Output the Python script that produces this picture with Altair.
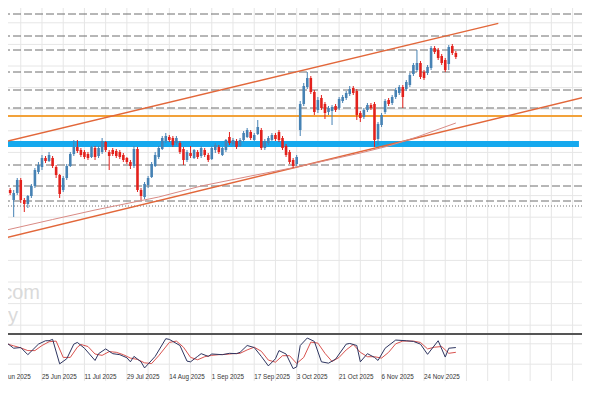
import altair as alt
import pandas as pd

# ---------------- data ----------------
day = list(range(2, 130))
open_ = [160.5, 161.0, 160.0, 160.7, 162.0, 160.0, 159.6, 160.4, 161.4, 162.8,
         163.3, 164.2, 163.9, 164.2, 163.3, 162.5, 161.0, 162.2, 163.4, 164.6,
         165.3, 165.0, 164.8, 164.6, 164.3, 165.2, 164.4, 164.8, 165.8, 164.8,
         165.0, 164.9, 164.8, 164.5, 164.2, 163.8, 163.4, 165.1, 161.0, 160.3,
         161.5, 162.3, 163.4, 164.3, 165.1, 165.9, 166.3, 166.2, 165.7, 165.7,
         165.1, 164.0, 164.7, 164.2, 164.8, 164.4, 165.0, 164.5, 164.1, 165.0,
         165.3, 164.5, 165.0, 166.3, 165.6, 165.9, 165.4, 166.0, 166.3, 166.8,
         166.0, 166.6, 167.0, 165.2, 165.7, 166.0, 166.5, 166.8, 166.2, 165.4,
         164.8, 164.0, 163.6, 167.0, 169.6, 171.3, 172.2, 170.8, 169.0, 170.2,
         169.6, 168.8, 168.9, 169.4, 169.2, 169.9, 170.2, 170.6, 171.2, 170.9,
         168.7, 168.3, 169.0, 169.5, 169.6, 166.1, 167.5, 168.8, 170.0, 169.7,
         170.3, 170.7, 171.3, 171.1, 171.5, 172.6, 173.0, 173.7, 172.8, 172.7,
         173.2, 175.2, 175.0, 174.4, 174.0, 173.6, 175.4, 174.7]
high = [161.5, 161.2, 161.0, 162.2, 162.2, 160.2, 160.5, 161.6, 163.2, 163.8,
        164.5, 164.4, 164.8, 164.4, 163.5, 162.6, 162.4, 163.6, 164.8, 166.0,
        166.0, 165.2, 165.0, 164.8, 165.4, 165.4, 165.4, 166.2, 165.9, 165.0,
        165.2, 165.1, 165.0, 164.7, 164.3, 164.0, 165.4, 165.3, 161.2, 161.8,
        162.4, 163.8, 164.8, 165.4, 166.4, 166.7, 166.5, 166.4, 166.4, 165.9,
        165.3, 165.0, 165.4, 165.1, 165.0, 165.4, 165.2, 164.7, 165.4, 165.7,
        165.5, 165.3, 166.1, 166.8, 166.2, 166.1, 166.2, 166.9, 167.2, 167.0,
        166.7, 168.0, 167.2, 166.1, 166.4, 166.7, 166.7, 167.0, 166.4, 165.6,
        165.0, 164.2, 164.5, 169.9, 171.7, 172.8, 172.4, 171.0, 170.3, 170.5,
        169.8, 169.4, 169.5, 169.6, 170.3, 170.5, 170.9, 171.4, 171.4, 171.1,
        168.9, 169.2, 169.7, 169.7, 169.8, 167.8, 168.7, 170.1, 170.2, 170.5,
        171.2, 171.5, 171.5, 172.0, 172.7, 173.7, 175.0, 173.9, 173.0, 173.5,
        175.4, 175.4, 175.2, 174.6, 174.2, 175.5, 175.6, 174.9]
low = [160.0, 160.5, 158.3, 160.5, 159.7, 158.8, 159.2, 160.2, 161.2, 162.6,
       163.0, 163.7, 163.8, 163.2, 162.2, 160.2, 160.8, 162.0, 163.3, 164.4,
       164.7, 164.3, 164.1, 164.0, 164.2, 164.0, 164.2, 164.6, 164.8, 163.0,
       164.4, 164.2, 164.1, 163.8, 163.6, 163.1, 163.2, 160.8, 160.0, 160.1,
       161.2, 162.2, 163.3, 164.1, 165.0, 165.7, 165.8, 165.3, 165.5, 164.6,
       163.5, 163.8, 164.2, 164.1, 164.1, 164.2, 164.3, 163.8, 164.0, 164.7,
       164.6, 164.4, 164.8, 165.5, 165.4, 165.1, 165.3, 165.8, 166.2, 166.0,
       165.9, 166.5, 165.0, 165.0, 165.5, 165.9, 165.9, 165.8, 165.0, 164.3,
       163.6, 163.2, 163.4, 166.4, 169.4, 171.1, 170.6, 168.5, 168.7, 169.0,
       168.1, 168.5, 167.5, 168.8, 169.0, 169.7, 170.0, 170.4, 170.5, 168.0,
       167.8, 168.1, 168.8, 169.0, 165.3, 165.5, 167.3, 168.6, 169.4, 169.5,
       170.1, 170.5, 169.2, 170.9, 171.3, 172.4, 172.8, 172.1, 172.0, 172.5,
       173.0, 174.6, 174.0, 173.5, 172.8, 173.0, 174.5, 174.1]
close = [161.0, 160.7, 160.7, 162.0, 160.0, 159.6, 160.4, 161.4, 163.0, 163.5,
         164.2, 163.9, 164.5, 163.4, 162.5, 160.6, 162.2, 163.4, 164.6, 165.3,
         164.9, 164.5, 164.3, 164.2, 165.3, 164.3, 165.2, 165.9, 165.0, 164.4,
         164.6, 164.4, 164.3, 164.0, 163.8, 163.4, 165.1, 161.0, 160.4, 161.6,
         162.2, 163.6, 164.5, 165.2, 166.2, 166.4, 166.0, 165.5, 166.2, 164.8,
         164.0, 164.8, 164.4, 165.0, 164.3, 165.2, 164.5, 164.0, 165.2, 165.5,
         164.8, 165.2, 166.0, 165.7, 166.0, 165.3, 166.0, 166.7, 167.0, 166.2,
         166.5, 167.3, 165.2, 165.9, 166.2, 166.5, 166.1, 166.0, 165.2, 164.5,
         163.8, 163.4, 164.3, 169.6, 171.4, 172.2, 170.8, 168.8, 170.0, 169.2,
         168.7, 169.2, 169.3, 169.0, 170.1, 170.3, 170.7, 171.1, 170.7, 168.5,
         168.2, 169.0, 169.5, 169.2, 166.0, 167.6, 168.5, 169.9, 169.6, 170.3,
         171.0, 171.3, 170.3, 171.8, 172.5, 173.5, 173.7, 172.3, 172.2, 173.3,
         175.2, 174.8, 174.2, 173.7, 173.0, 175.3, 174.7, 174.3]

# moving average
ma_day = [2, 15, 27, 45, 57, 71, 84, 93, 102, 110, 118, 129]
ma_val = [157.0, 158.05, 159.0, 160.3, 161.4, 162.4, 163.3, 164.0, 164.7, 165.4, 166.3, 167.7]

# horizontal levels
dashed_levels = [178.6, 176.4, 175.0, 172.8, 171.0, 169.2, 163.5, 161.4, 159.9]
dotted_levels = [159.4]
orange_level = [168.4]
band_low, band_high = 165.3, 165.9
band_start, band_end = -5, 163.8

# channel lines (start/end points)
upper_day = [0, 141]
upper_val = [165.69, 177.66]
lower_day = [0, 170]
lower_val = [156.06, 170.69]

# stochastic oscillator
k_day = [2, 3, 4, 6, 8, 11, 13, 14, 15, 17, 19, 21, 22, 24, 27, 28, 30, 32, 34, 36,
         37, 38, 40, 41, 44, 47, 48, 51, 53, 54, 56, 57, 59, 60, 63, 65, 67, 68, 70, 72,
         74, 76, 78, 79, 81, 83, 84, 85, 87, 89, 91, 93, 95, 98, 99, 101, 102, 104, 106, 107,
         109, 112, 115, 117, 119, 121, 124, 126, 127, 129]
k_val = [83, 75, 67, 69, 48, 79, 89, 89, 93, 21, 36, 79, 84, 67, 31, 51, 65, 51, 48, 39,
         27, 43, 27, 9, 43, 95, 93, 75, 29, 27, 43, 51, 43, 50, 48, 52, 51, 55, 75, 69,
         43, 15, 36, 60, 50, 7, 12, 75, 97, 87, 27, 23, 35, 79, 81, 75, 27, 51, 40, 31,
         67, 91, 89, 87, 79, 49, 89, 41, 67, 69]
d_day = [2, 4, 6, 8, 10, 12, 14, 16, 18, 20, 22, 23, 25, 27, 29, 31, 33, 35, 37, 39,
         41, 43, 45, 48, 50, 52, 54, 56, 58, 60, 62, 64, 66, 68, 70, 72, 74, 76, 78, 80,
         82, 84, 86, 88, 90, 92, 94, 96, 98, 100, 102, 104, 106, 108, 110, 112, 114, 117, 119, 121,
         123, 125, 127, 129]
d_val = [80, 74, 68, 60, 60, 75, 86, 88, 40, 40, 70, 78, 72, 50, 46, 57, 55, 48, 38, 34,
         24, 22, 45, 84, 88, 70, 40, 33, 42, 46, 48, 49, 51, 52, 62, 70, 58, 32, 26, 45,
         45, 22, 40, 85, 82, 52, 28, 40, 62, 78, 55, 42, 42, 38, 55, 80, 88, 88, 84, 65,
         70, 72, 52, 55]
osc_levels = [20, 80]

tick_days = [0, 12, 24, 36, 48, 60, 72, 84, 96, 108, 120]
tick_labels = ["9 Jun 2025", "25 Jun 2025", "11 Jul 2025", "29 Jul 2025", "14 Aug 2025",
               "1 Sep 2025", "17 Sep 2025", "3 Oct 2025", "21 Oct 2025", "6 Nov 2025",
               "24 Nov 2025"]

# ---------------- tables ----------------
candles = pd.DataFrame({"day": day, "open": open_, "high": high, "low": low, "close": close})
ma = pd.DataFrame({"day": ma_day, "price": ma_val})
upper = pd.DataFrame({"day": upper_day, "price": upper_val})
lower = pd.DataFrame({"day": lower_day, "price": lower_val})
dashed = pd.DataFrame({"price": dashed_levels})
dotted = pd.DataFrame({"price": dotted_levels})
orange = pd.DataFrame({"price": orange_level})
band = pd.DataFrame({"x1": [band_start], "x2": [band_end], "y1": [band_low], "y2": [band_high]})
kdf = pd.DataFrame({"day": k_day, "v": k_val})
ddf = pd.DataFrame({"day": d_day, "v": d_val})
odf = pd.DataFrame({"v": osc_levels})
ticks_df = pd.DataFrame({"day": tick_days, "label": tick_labels})
one = pd.DataFrame({"a": [0]})
vgrid = pd.DataFrame({"day": list(range(6, 166, 6))})
hgrid_df = pd.DataFrame({"price": [round(151.8 + 2.16 * k, 2) for k in range(-2, 13)]})

W = 574          # plot = whole chart (no axes, autosize none)
H = 373
GRID = "#E6E6E6"

x_scale = alt.Scale(domain=[3.806, 163.25], nice=False, zero=False)
y_scale = alt.Scale(domain=[146.6, 179.2], range=[326, 0], nice=False, zero=False)
o_scale = alt.Scale(domain=[0, 100], range=[363, 329], nice=False, zero=False)

bull = "#4682B4"
bear = "#E3211C"
color_cond = alt.condition("datum.close >= datum.open", alt.value(bull), alt.value(bear))

vgrid_layer = alt.Chart(vgrid).mark_rule(color=GRID, strokeWidth=1).encode(
    x=alt.X("day:Q", scale=x_scale, axis=None)
)
hgrid = alt.Chart(hgrid_df).mark_rule(color=GRID, strokeWidth=1).encode(
    y=alt.Y("price:Q", scale=y_scale, axis=None)
)
wm_com = alt.Chart(one).mark_text(
    text="com", align="right", baseline="alphabetic", fontSize=20,
    font="Liberation Sans", color="#DADADA"
).encode(x=alt.value(32), y=alt.value(291))
wm_ay = alt.Chart(one).mark_text(
    text="ay", align="right", baseline="alphabetic", fontSize=20,
    font="Liberation Sans", color="#DADADA"
).encode(x=alt.value(10), y=alt.value(314))

dashed_layer = alt.Chart(dashed).mark_rule(color="#6E6E6E", strokeWidth=1, strokeDash=[8, 3]).encode(
    y=alt.Y("price:Q", scale=y_scale, axis=None)
)
dotted_layer = alt.Chart(dotted).mark_rule(color="#6E6E6E", strokeWidth=1, strokeDash=[1, 2]).encode(
    y=alt.Y("price:Q", scale=y_scale, axis=None)
)
orange_layer = alt.Chart(orange).mark_rule(color="#F2A23A", strokeWidth=2).encode(
    y=alt.Y("price:Q", scale=y_scale, axis=None)
)
band_layer = alt.Chart(band).mark_rect(color="#16A9EE", clip=True).encode(
    x=alt.X("x1:Q", scale=x_scale, axis=None), x2="x2:Q",
    y=alt.Y("y1:Q", scale=y_scale, axis=None), y2="y2:Q",
)
upper_layer = alt.Chart(upper).mark_line(color="#E2673A", strokeWidth=1.4, clip=True).encode(
    x=alt.X("day:Q", scale=x_scale, axis=None), y=alt.Y("price:Q", scale=y_scale, axis=None)
)
lower_layer = alt.Chart(lower).mark_line(color="#E2673A", strokeWidth=1.4, clip=True).encode(
    x=alt.X("day:Q", scale=x_scale, axis=None), y=alt.Y("price:Q", scale=y_scale, axis=None)
)
ma_layer = alt.Chart(ma).mark_line(color="#D98A84", strokeWidth=1, clip=True).encode(
    x=alt.X("day:Q", scale=x_scale, axis=None), y=alt.Y("price:Q", scale=y_scale, axis=None)
)
wicks = alt.Chart(candles).mark_rule(strokeWidth=1, clip=True).encode(
    x=alt.X("day:Q", scale=x_scale, axis=None),
    y=alt.Y("low:Q", scale=y_scale, axis=None), y2="high:Q",
    color=color_cond,
)
bodies = alt.Chart(candles).mark_bar(width=2.6, clip=True).encode(
    x=alt.X("day:Q", scale=x_scale, axis=None),
    y=alt.Y("open:Q", scale=y_scale, axis=None), y2="close:Q",
    color=color_cond,
)

# oscillator panel
sep = alt.Chart(one).mark_rule(color="#555555", strokeWidth=2).encode(
    x=alt.value(0), x2=alt.value(W), y=alt.value(326)
)
ogrid = alt.Chart(odf).mark_rule(color=GRID, strokeWidth=1).encode(
    y=alt.Y("v:Q", scale=o_scale, axis=None)
)
k_layer = alt.Chart(kdf).mark_line(color="#2E3560", strokeWidth=1).encode(
    x=alt.X("day:Q", scale=x_scale, axis=None), y=alt.Y("v:Q", scale=o_scale, axis=None)
)
d_layer = alt.Chart(ddf).mark_line(color="#D9534F", strokeWidth=1).encode(
    x=alt.X("day:Q", scale=x_scale, axis=None), y=alt.Y("v:Q", scale=o_scale, axis=None)
)

# date labels along the bottom, placed through the x scale
date_labels = alt.Chart(ticks_df).mark_text(
    align="left", baseline="alphabetic", fontSize=6.3, font="Liberation Sans",
    color="#333333"
).encode(
    x=alt.X("day:Q", scale=x_scale, axis=None),
    y=alt.value(371),
    text="label:N",
)

chart = alt.layer(
    vgrid_layer, hgrid, wm_com, wm_ay, dashed_layer, dotted_layer, orange_layer,
    band_layer, upper_layer, lower_layer, ma_layer, wicks, bodies,
    sep, ogrid, d_layer, k_layer, date_labels
).resolve_scale(y="independent").properties(
    width=W, height=H, padding=0, background="white",
    autosize=alt.AutoSizeParams(type="none"),
).configure_view(strokeWidth=0)

chart.save("out.html", embed_options={"renderer": "svg", "actions": False})
